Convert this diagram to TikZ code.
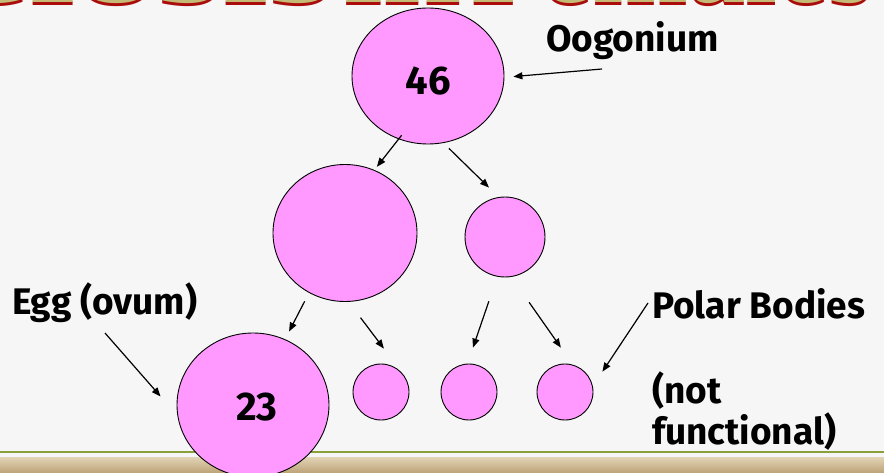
\documentclass[tikz,border=0pt]{standalone}
\usepackage{fontspec}
\usepackage{graphicx}
\setmainfont{Fira Sans}
\newfontfamily\titlefont{Liberation Serif}
\usetikzlibrary{arrows.meta,shapes.geometric}

\definecolor{bgpaper}{RGB}{246,246,246}
\definecolor{cellpink}{RGB}{255,153,255}
\definecolor{titlered}{RGB}{170,12,12}
\definecolor{titlegold}{RGB}{196,186,118}
\definecolor{rulegreen}{RGB}{138,160,56}
\definecolor{tantop}{RGB}{226,212,182}
\definecolor{tanbot}{RGB}{188,162,118}

\begin{document}
\begin{tikzpicture}[x=1pt,y=-1pt,
  cell/.style={ellipse,draw=black,line width=0.9pt,fill=cellpink,inner sep=0pt},
  arr/.style={-{Triangle[length=9pt,width=7pt]},line width=1.2pt},
  lab/.style={font=\fontsize{37}{42}\selectfont\bfseries,inner sep=0pt,anchor=base west},
  num/.style={font=\fontsize{40}{46}\selectfont\bfseries,inner sep=0pt,anchor=base},
  ttl/.style={font=\titlefont\fontsize{115}{120}\selectfont\bfseries,inner sep=0pt}]

% page and clipping frame
\useasboundingbox (0,0) rectangle (884,473);
\clip (0,0) rectangle (884,473);
\fill[bgpaper] (0,0) rectangle (884,473);

% slide title (only its lower edge lies inside the frame)
\foreach \col/\yb in {titlered/6, titlegold/3} {
  \node[ttl,text=\col,anchor=base east] at (333,\yb) {\scalebox{1.44}[1]{Meiosis}};
  \node[ttl,text=\col,anchor=base west] at (343,\yb) {\scalebox{1.24}[1]{in}};
  \node[ttl,text=\col,anchor=base west] at (471,\yb) {Females};
}

% footer rule and band
\draw[rulegreen,line width=1.6pt] (0,452) -- (884,452);
\shade[top color=tantop,bottom color=tanbot] (0,457) rectangle (884,473);

% cells
\node[cell,minimum width=152pt,minimum height=136pt] (top) at (428,76) {};
\node[cell,minimum width=144pt,minimum height=137pt] (big) at (345,233) {};
\node[cell,minimum width=80pt,minimum height=80pt] (pb1) at (505,237) {};
\node[cell,minimum width=152pt,minimum height=144pt] (egg) at (253,405) {};
\node[cell,minimum width=56pt,minimum height=56pt] (pb2) at (381,392) {};
\node[cell,minimum width=56pt,minimum height=56pt] (pb3) at (469,392) {};
\node[cell,minimum width=56pt,minimum height=56pt] (pb4) at (565,392) {};

% chromosome numbers
\node[num] (n46) at (428,95) {46};
\node[num] (n23) at (257,420) {23};

% labels
\node[lab] (loog) at (546,52) {Oogonium};
\node[lab] (legg) at (12,315) {Egg (ovum)};
\node[lab] (lpol) at (652,318) {Polar Bodies};
\node[lab] (lnot) at (652,403) {(not};
\node[lab] (lfun) at (652,444) {functional)};

% divisions
\draw[arr,shorten <=-5pt,shorten >=4pt] (top.245) -- (big.65);
\draw[arr,shorten <=7.6pt,shorten >=13.5pt] (top.283) -- (pb1.99);
\draw[arr,shorten <=9.5pt,shorten >=8.7pt] (big.239) -- (egg.64);
\draw[arr,shorten <=19.8pt,shorten >=32.4pt] (big.273) -- (pb2.38);
\draw[arr,shorten <=26pt,shorten >=16.9pt] (pb1.259) -- (pb3.93);
\draw[arr,shorten <=31pt,shorten >=20.8pt] (pb1.279) -- (pb4.74);

% label pointers
\coordinate (toog) at (602,69);
\coordinate (tegg) at (105,333);
\coordinate (tpol) at (648,303);
\draw[arr,shorten >=9pt] (toog) -- (top.359);
\draw[arr,shorten >=25.5pt] (tegg) -- (egg.188);
\draw[arr,shorten >=17.3pt] (tpol) -- (pb4.12);
\end{tikzpicture}
\end{document}
